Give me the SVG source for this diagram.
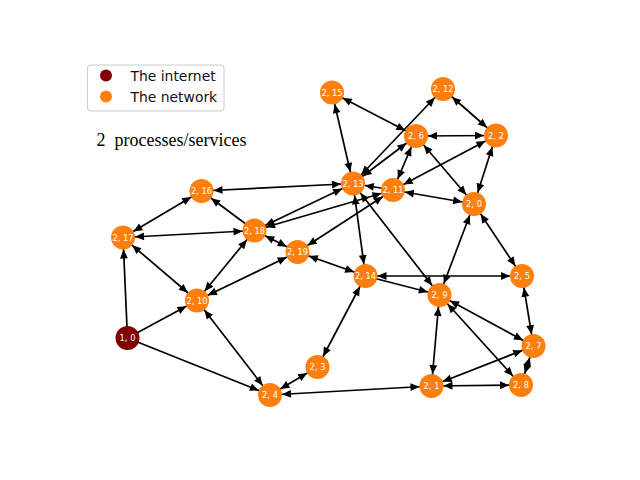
<svg xmlns="http://www.w3.org/2000/svg" width="640" height="480" viewBox="0 0 640 480">
<style>
.edges line{stroke:#000;stroke-width:1.7;fill:none}
.e{marker-end:url(#ah)}
.b{marker-start:url(#ah);marker-end:url(#ah)}
.node circle{fill:#ff7f0e}
.node.inet circle{fill:#800000}
.node text{font-family:"DejaVu Sans",sans-serif;font-size:8.3px;fill:#fff;text-anchor:middle}
.leg text{font-family:"DejaVu Sans",sans-serif;font-size:13.9px;fill:#111}
</style>
<defs>
<marker id="ah" markerUnits="userSpaceOnUse" viewBox="-23 -5 25 10" markerWidth="25" markerHeight="10" refX="0" refY="0" orient="auto-start-reverse">
<path d="M-12,0 L-21,-3.9 L-21,3.9 Z" fill="#000"/>
</marker>
</defs>
<rect width="640" height="480" fill="#fff"/>
<g id="legend" class="leg">
<rect x="87.5" y="65" width="136.5" height="46" rx="3" fill="#fff" fill-opacity="0.8" stroke="#cccccc" stroke-width="1"/>
<circle cx="106" cy="75.5" r="6" fill="#800000"/>
<circle cx="106" cy="96.5" r="6" fill="#ff7f0e"/>
<text x="130.5" y="80.5">The internet</text>
<text x="130.5" y="101.5">The network</text>
</g>
<text id="title" x="96.5" y="146" xml:space="preserve" font-family="Liberation Serif, serif" font-size="18" fill="#000">2  processes/services</text>
<g id="connectors" class="edges">
<line class="e" x1="127.5" y1="338" x2="123" y2="237.5"/>
<line class="e" x1="127.5" y1="338" x2="197" y2="300.5"/>
<line class="e" x1="127.5" y1="338" x2="270" y2="395"/>
<line class="b" x1="123" y1="237.5" x2="201.5" y2="191"/>
<line class="b" x1="123" y1="237.5" x2="254.5" y2="230.5"/>
<line class="b" x1="123" y1="237.5" x2="197" y2="300.5"/>
<line class="e" x1="254.5" y1="230.5" x2="201.5" y2="191"/>
<line class="b" x1="353" y1="183.5" x2="201.5" y2="191"/>
<line class="b" x1="254.5" y1="230.5" x2="197" y2="300.5"/>
<line class="b" x1="254.5" y1="230.5" x2="297.5" y2="252"/>
<line class="b" x1="297.5" y1="252" x2="197" y2="300.5"/>
<line class="b" x1="254.5" y1="230.5" x2="353" y2="183.5"/>
<line class="b" x1="254.5" y1="230.5" x2="393" y2="190"/>
<line class="b" x1="393" y1="190" x2="297.5" y2="252"/>
<line class="b" x1="353" y1="183.5" x2="365.5" y2="276"/>
<line class="b" x1="353" y1="183.5" x2="439.5" y2="295"/>
<line class="b" x1="353" y1="183.5" x2="332" y2="92.5"/>
<line class="b" x1="353" y1="183.5" x2="443" y2="89"/>
<line class="b" x1="353" y1="183.5" x2="416" y2="136"/>
<line class="e" x1="393" y1="190" x2="353" y2="183.5"/>
<line class="b" x1="416" y1="136" x2="393" y2="190"/>
<line class="b" x1="496" y1="135.5" x2="393" y2="190"/>
<line class="b" x1="393" y1="190" x2="474" y2="204"/>
<line class="b" x1="416" y1="136" x2="474" y2="204"/>
<line class="b" x1="416" y1="136" x2="496" y2="135.5"/>
<line class="b" x1="416" y1="136" x2="332" y2="92.5"/>
<line class="b" x1="443" y1="89" x2="496" y2="135.5"/>
<line class="b" x1="496" y1="135.5" x2="474" y2="204"/>
<line class="b" x1="474" y1="204" x2="439.5" y2="295"/>
<line class="b" x1="474" y1="204" x2="522" y2="276"/>
<line class="b" x1="365.5" y1="276" x2="522" y2="276"/>
<line class="e" x1="365.5" y1="276" x2="439.5" y2="295"/>
<line class="b" x1="365.5" y1="276" x2="297.5" y2="252"/>
<line class="b" x1="365.5" y1="276" x2="317.5" y2="367"/>
<line class="b" x1="317.5" y1="367" x2="270" y2="395"/>
<line class="b" x1="197" y1="300.5" x2="270" y2="395"/>
<line class="b" x1="431.5" y1="386" x2="270" y2="395"/>
<line class="b" x1="439.5" y1="295" x2="431.5" y2="386"/>
<line class="b" x1="439.5" y1="295" x2="533.5" y2="346"/>
<line class="b" x1="439.5" y1="295" x2="521" y2="385"/>
<line class="b" x1="522" y1="276" x2="533.5" y2="346"/>
<line class="b" x1="533.5" y1="346" x2="431.5" y2="386"/>
<line class="b" x1="533.5" y1="346" x2="521" y2="385"/>
<line class="b" x1="431.5" y1="386" x2="521" y2="385"/>
</g>
<g id="n1_0" class="node inet"><circle cx="127.5" cy="338" r="12"/><text x="127.5" y="341">1, 0</text></g>
<g id="n2_0" class="node"><circle cx="474" cy="204" r="12"/><text x="474" y="207">2, 0</text></g>
<g id="n2_1" class="node"><circle cx="431.5" cy="386" r="12"/><text x="431.5" y="389">2, 1</text></g>
<g id="n2_2" class="node"><circle cx="496" cy="135.5" r="12"/><text x="496" y="138.5">2, 2</text></g>
<g id="n2_3" class="node"><circle cx="317.5" cy="367" r="12"/><text x="317.5" y="370">2, 3</text></g>
<g id="n2_4" class="node"><circle cx="270" cy="395" r="12"/><text x="270" y="398">2, 4</text></g>
<g id="n2_5" class="node"><circle cx="522" cy="276" r="12"/><text x="522" y="279">2, 5</text></g>
<g id="n2_6" class="node"><circle cx="416" cy="136" r="12"/><text x="416" y="139">2, 6</text></g>
<g id="n2_7" class="node"><circle cx="533.5" cy="346" r="12"/><text x="533.5" y="349">2, 7</text></g>
<g id="n2_8" class="node"><circle cx="521" cy="385" r="12"/><text x="521" y="388">2, 8</text></g>
<g id="n2_9" class="node"><circle cx="439.5" cy="295" r="12"/><text x="439.5" y="298">2, 9</text></g>
<g id="n2_10" class="node"><circle cx="197" cy="300.5" r="12"/><text x="197" y="303.5">2, 10</text></g>
<g id="n2_11" class="node"><circle cx="393" cy="190" r="12"/><text x="393" y="193">2, 11</text></g>
<g id="n2_12" class="node"><circle cx="443" cy="89" r="12"/><text x="443" y="92">2, 12</text></g>
<g id="n2_13" class="node"><circle cx="353" cy="183.5" r="12"/><text x="353" y="186.5">2, 13</text></g>
<g id="n2_14" class="node"><circle cx="365.5" cy="276" r="12"/><text x="365.5" y="279">2, 14</text></g>
<g id="n2_15" class="node"><circle cx="332" cy="92.5" r="12"/><text x="332" y="95.5">2, 15</text></g>
<g id="n2_16" class="node"><circle cx="201.5" cy="191" r="12"/><text x="201.5" y="194">2, 16</text></g>
<g id="n2_17" class="node"><circle cx="123" cy="237.5" r="12"/><text x="123" y="240.5">2, 17</text></g>
<g id="n2_18" class="node"><circle cx="254.5" cy="230.5" r="12"/><text x="254.5" y="233.5">2, 18</text></g>
<g id="n2_19" class="node"><circle cx="297.5" cy="252" r="12"/><text x="297.5" y="255">2, 19</text></g>
</svg>
